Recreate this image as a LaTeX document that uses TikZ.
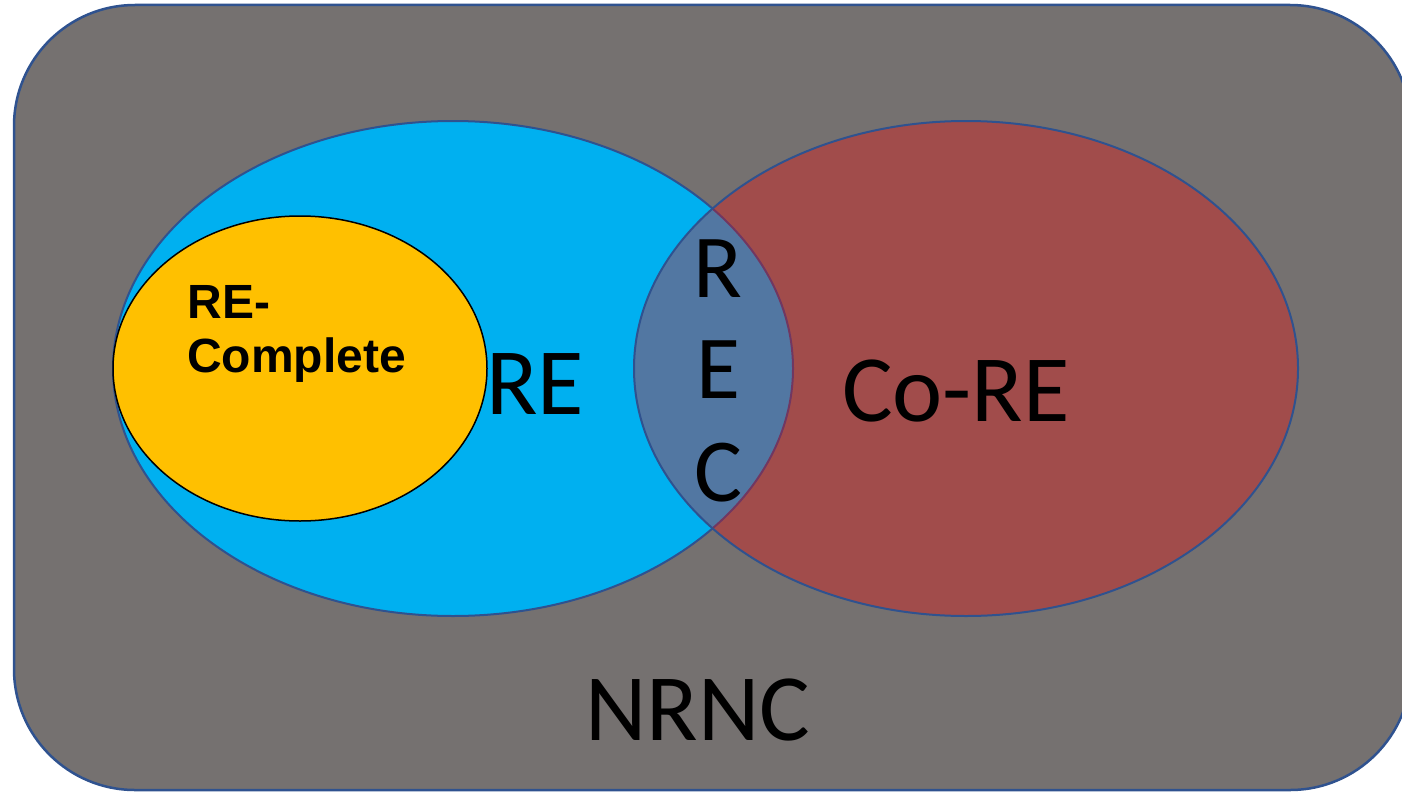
\documentclass[tikz,border=0pt]{standalone}
\usepackage{fontspec}
\setmainfont{Carlito}
\newfontfamily\arialbold[Scale=1]{Liberation Sans}
\definecolor{bggray}{RGB}{117,113,112}
\definecolor{edgeblue}{RGB}{47,82,143}
\definecolor{reblue}{RGB}{0,176,240}
\definecolor{coreRed}{RGB}{255,0,0}
\definecolor{rcyellow}{RGB}{255,192,0}
\tikzset{
  bigtext/.style={inner sep=0pt, anchor=base, font=\fontsize{95}{105}\selectfont},
  rectext/.style={inner sep=0pt, anchor=base, font=\fontsize{90}{100}\selectfont},
  smalltext/.style={inner sep=0pt, anchor=base, font=\arialbold\bfseries\fontsize{48}{54}\selectfont},
}
\begin{document}
\begin{tikzpicture}[x=1pt,y=-1pt]
\clip (0,0) rectangle (1402,792);
\fill[white] (0,0) rectangle (1402,792);
% outer rounded rectangle
\draw[edgeblue, line width=2.5pt, fill=bggray, rounded corners=121pt] (14,5) rectangle (1411,790);
% RE ellipse
\draw[edgeblue, line width=2pt, fill=reblue] (453,368.5) ellipse [x radius=340, y radius=247.5];
% RE-Complete ellipse
\draw[black, line width=1.5pt, fill=rcyellow] (300,368.5) ellipse [x radius=187, y radius=152.5];
% Co-RE ellipse (translucent red)
\fill[coreRed, fill opacity=0.32] (966,368.5) ellipse [x radius=332, y radius=247.5];
\draw[edgeblue, line width=2pt] (966,368.5) ellipse [x radius=332, y radius=247.5];
% labels
\node[smalltext] (rc1) at (229,318) {RE-};
\node[smalltext] (rc2) at (296.5,372) {Complete};
\node[bigtext] (re) at (535,414) {RE};
\node[bigtext] (core) at (956,421) {Co-RE};
\node[rectext] (recR) at (718,297) {R};
\node[rectext] (recE) at (718,398) {E};
\node[rectext] (recC) at (718,501) {C};
\node[bigtext] (nrnc) at (698,740) {NRNC};
\end{tikzpicture}
\end{document}
